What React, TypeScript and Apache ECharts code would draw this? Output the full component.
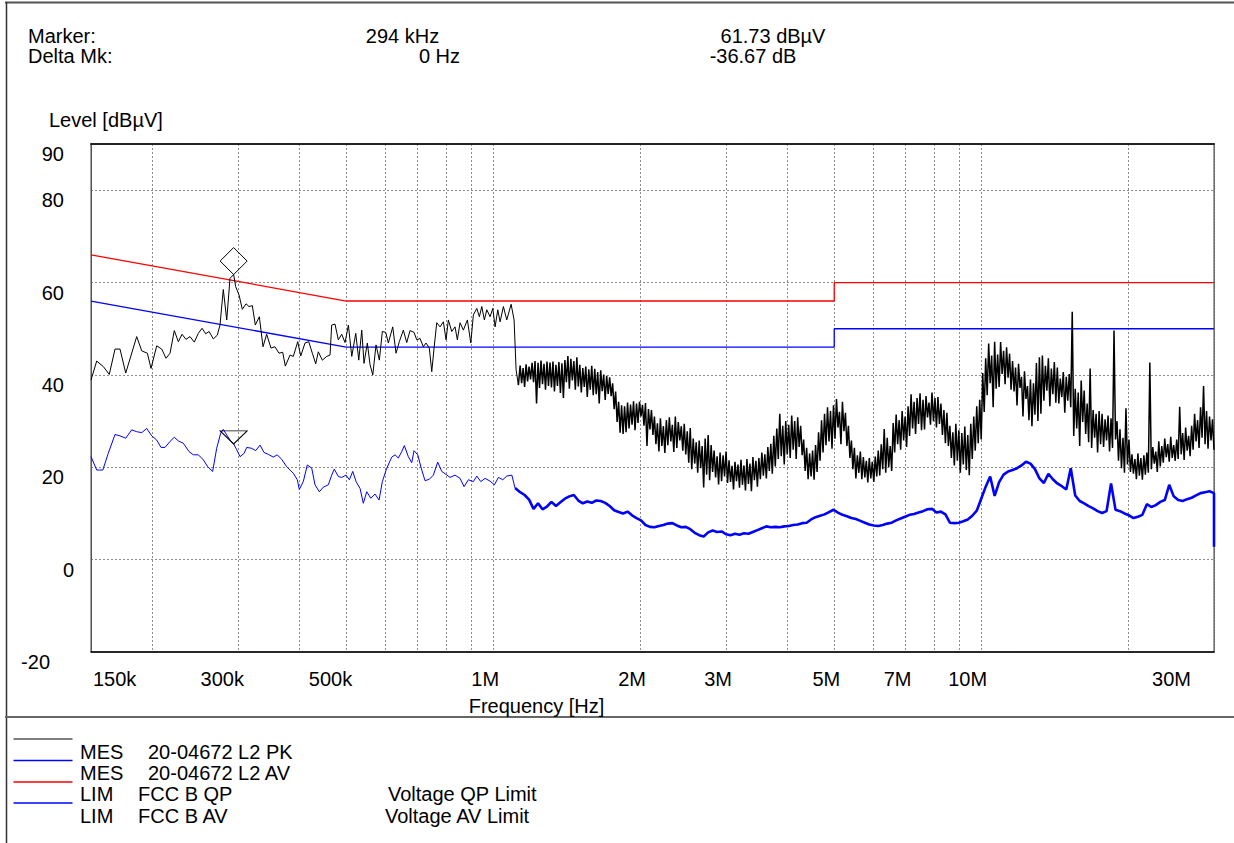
import React, { useEffect, useRef } from "react";
import * as echarts from "echarts";

const FONT = "'Liberation Sans', Arial, Helvetica, sans-serif";

// ---------- axes ----------
const X_MIN_MHZ = 0.15;
const X_MAX_MHZ = 30;
const Y_MIN = -20;
const Y_MAX = 90;
const X_GRID_MHZ = [0.2, 0.3, 0.4, 0.5, 0.6, 0.7, 0.8, 0.9, 1, 2, 3, 4, 5, 6, 7, 8, 9, 10, 20];
const X_TICK_MHZ = [0.3, 0.5, 1, 2, 3, 5, 7, 10];
const X_TICK_TEXT = ["300k", "500k", "1M", "2M", "3M", "5M", "7M", "10M"];
const X_FIRST_TICK_MHZ = [0.15];
const X_FIRST_TICK_TEXT = ["150k"];
const X_LAST_TICK_MHZ = [30];
const X_LAST_TICK_TEXT = ["30M"];
const Y_GRID = [0, 20, 40, 60, 80];
const Y_TICKS_MAIN = [20, 40, 60, 80, 90];
const Y_TICKS_ZERO = [0];
const Y_TICKS_LOW = [-20];

// ---------- limits (FCC class B) ----------
const QP_LIMIT_MHZ = [0.15, 0.5, 5, 5, 30];
const QP_LIMIT_DB = [66, 56, 56, 60, 60];
const AV_LIMIT_MHZ = [0.15, 0.5, 5, 5, 30];
const AV_LIMIT_DB = [56, 46, 46, 50, 50];

// ---------- marker ----------
const MARKER_MHZ = 0.294;
const MARKER_PK_DB = 61.73;
const MARKER_DELTA_DB = -36.67;

// ---------- PK trace, 150 kHz .. 1.13 MHz ----------
const PK_LEFT_MHZ = [
  0.15, 0.1541, 0.159, 0.1635, 0.168, 0.172, 0.1767, 0.1861, 0.1906, 0.1957,
  0.1991, 0.2045, 0.2094, 0.2137, 0.2178, 0.2222, 0.2265, 0.2305, 0.2348, 0.2393,
  0.2442, 0.2489, 0.2533, 0.2577, 0.2618, 0.2671, 0.2722, 0.2757, 0.28, 0.2846,
  0.289, 0.294, 0.2969, 0.3016, 0.3063, 0.3117, 0.3161, 0.3211, 0.3257, 0.3319,
  0.3377, 0.3436, 0.3507, 0.3573, 0.3641, 0.3706, 0.3752, 0.3836, 0.3896, 0.3978,
  0.4035, 0.4117, 0.419, 0.4262, 0.433, 0.4384, 0.4468, 0.4561, 0.4633, 0.467,
  0.4743, 0.4818, 0.4896, 0.4973, 0.5052, 0.5133, 0.5231, 0.5306, 0.5381, 0.5439,
  0.5525, 0.5596, 0.5668, 0.5756, 0.5847, 0.593, 0.6026, 0.61, 0.6228, 0.6326,
  0.6425, 0.6548, 0.6653, 0.6758, 0.6887, 0.6975, 0.7085, 0.7195, 0.7288, 0.7402,
  0.7487, 0.7569, 0.7665, 0.7786, 0.7908, 0.801, 0.8097, 0.8227, 0.8357, 0.8448,
  0.8556, 0.8691, 0.8857, 0.9001, 0.9111, 0.926, 0.9373, 0.948, 0.9596, 0.9707,
  0.9858, 0.9986, 1.0095, 1.0223, 1.0335, 1.0498, 1.0666, 1.0887, 1.1041, 1.1146,
  1.1267,
];
const PK_LEFT_DB = [
  38.9, 43.0, 41.8, 40.1, 45.6, 45.6, 40.4, 48.3, 45.2, 44.7,
  41.4, 46.3, 45.6, 43.6, 44.7, 49.6, 47.2, 48.8, 47.7, 48.3,
  47.1, 49.0, 50.1, 48.9, 49.4, 47.8, 48.6, 50.8, 58.5, 51.9,
  60.9, 61.73, 59.1, 57.3, 54.2, 55.4, 54.8, 55.0, 50.8, 52.6,
  46.1, 48.8, 45.8, 46.1, 44.7, 44.9, 41.9, 44.3, 44.0, 47.2,
  44.1, 46.9, 47.2, 44.7, 42.4, 45.0, 43.2, 44.0, 44.3, 50.8,
  51.0, 47.6, 48.8, 47.0, 50.8, 44.0, 49.0, 43.2, 49.7, 42.5,
  46.9, 42.2, 40.0, 46.5, 43.2, 49.4, 49.2, 46.9, 50.4, 44.7,
  47.2, 49.7, 47.0, 49.6, 49.2, 47.6, 47.9, 46.1, 46.9, 45.8,
  40.7, 45.8, 51.3, 50.4, 51.5, 47.6, 51.9, 49.4, 50.4, 47.6,
  51.3, 49.7, 51.9, 46.9, 53.0, 54.4, 52.6, 54.8, 51.9, 54.1,
  52.6, 54.4, 50.4, 54.1, 51.5, 54.8, 51.9, 55.3, 51.9, 41.1,
  37.8,
];

// ---------- PK trace, 1.136 MHz .. 30 MHz, sweep points evenly spaced on the log axis ----------
const PK_BAND_START_MHZ = 1.136;
const PK_BAND_END_MHZ = 30;
const PK_BAND_DB = [
  42.0, 38.2, 41.5, 37.4, 42.3, 38.6, 41.8, 39.0, 42.6, 38.4,
  43.0, 33.8, 42.6, 37.2, 43.1, 38.0, 42.4, 36.8, 42.9, 37.6,
  42.7, 37.3, 42.9, 36.4, 42.2, 37.6, 42.8, 36.1, 42.5, 35.0,
  43.2, 38.4, 44.1, 37.0, 43.5, 38.8, 43.0, 36.8, 43.8, 37.5,
  42.2, 36.2, 41.5, 37.4, 41.8, 35.2, 41.2, 36.8, 42.0, 35.6,
  41.3, 35.8, 40.6, 33.8, 41.0, 36.5, 40.1, 34.6, 39.8, 35.9,
  39.5, 35.4, 38.2, 32.6, 36.4, 29.8, 34.2, 27.5, 33.4, 27.2,
  33.2, 27.6, 34.0, 28.4, 33.6, 29.2, 34.3, 28.0, 33.8, 29.6,
  34.2, 31.0, 33.5, 29.0, 33.9, 24.6, 32.6, 28.2, 32.4, 27.0,
  31.0, 25.0, 29.5, 23.4, 30.6, 24.6, 28.9, 23.1, 30.2, 24.8,
  30.8, 25.6, 29.2, 23.3, 31.0, 24.2, 29.8, 25.8, 28.9, 23.6,
  29.4, 22.8, 27.8, 21.0, 28.5, 19.6, 26.2, 20.8, 25.4, 18.8,
  25.8, 19.8, 24.6, 15.6, 26.2, 18.4, 27.0, 17.2, 24.8, 19.0,
  23.6, 17.8, 22.4, 16.3, 23.2, 17.0, 22.6, 18.0, 23.4, 16.6,
  21.5, 16.8, 20.3, 15.2, 21.2, 17.0, 20.6, 15.6, 21.6, 16.2,
  20.4, 15.0, 21.8, 16.4, 20.8, 14.8, 22.2, 17.2, 21.4, 15.8,
  22.0, 17.4, 23.2, 18.2, 22.8, 17.6, 24.4, 19.2, 25.1, 18.6,
  26.8, 20.2, 28.4, 21.8, 31.6, 22.4, 29.0, 20.6, 30.0, 22.8,
  29.2, 22.0, 31.2, 23.8, 30.0, 21.8, 30.8, 24.4, 29.0, 22.6,
  26.0, 19.2, 24.2, 17.4, 23.0, 18.0, 23.6, 17.3, 24.8, 19.0,
  27.6, 21.4, 30.2, 23.2, 31.6, 24.8, 33.0, 25.6, 32.2, 24.0,
  33.4, 26.2, 34.8, 28.6, 32.0, 25.0, 34.2, 27.8, 31.8, 24.6,
  29.0, 22.0, 25.8, 19.6, 24.2, 17.6, 22.6, 18.8, 23.4, 17.4,
  22.2, 17.8, 21.4, 16.7, 22.0, 17.6, 21.2, 16.8, 22.3, 18.0,
  23.6, 18.2, 25.0, 19.6, 28.3, 18.8, 26.4, 20.0, 24.6, 19.2,
  29.6, 23.2, 31.4, 25.0, 30.2, 23.8, 32.2, 25.8, 31.0, 24.4,
  33.2, 26.8, 35.8, 28.4, 34.2, 27.2, 35.0, 29.4, 36.0, 28.0,
  34.6, 28.2, 35.4, 30.8, 34.0, 29.2, 36.2, 30.0, 35.0, 28.6,
  35.2, 29.4, 33.8, 27.0, 32.4, 25.2, 31.8, 24.6, 29.0, 22.0,
  27.6, 20.4, 29.4, 21.4, 28.0, 18.8, 27.4, 20.6, 28.8, 19.4,
  27.0, 18.3, 29.4, 21.8, 31.0, 23.6, 33.2, 25.2, 34.6, 26.0,
  40.4, 32.0, 43.6, 35.6, 46.8, 38.2, 44.2, 33.0, 47.2, 37.0,
  44.4, 37.4, 47.1, 40.2, 45.2, 38.0, 46.0, 39.4, 44.6, 36.8,
  43.0, 36.4, 41.6, 33.4, 42.4, 37.2, 39.6, 31.0, 40.8, 34.8,
  37.6, 30.2, 39.0, 28.9, 38.2, 31.4, 42.6, 30.0, 43.8, 31.6,
  44.2, 34.4, 42.0, 36.6, 43.6, 33.2, 41.4, 35.8, 42.8, 34.0,
  41.6, 33.8, 39.2, 35.2, 40.6, 31.8, 39.6, 34.4, 40.2, 33.0,
  53.7, 26.8, 37.0, 28.4, 36.2, 24.6, 38.8, 29.8, 36.6, 27.2,
  33.8, 25.4, 41.4, 24.2, 32.4, 26.4, 31.6, 23.2, 32.2, 25.0,
  31.6, 24.4, 30.4, 25.8, 31.2, 23.4, 30.6, 24.2, 49.6, 26.0,
  30.0, 21.4, 28.2, 19.8, 26.4, 18.8, 32.8, 20.6, 26.0, 19.0,
  22.8, 18.6, 21.8, 17.4, 23.0, 18.2, 22.0, 17.3, 22.6, 18.4,
  23.2, 18.8, 42.7, 19.6, 24.4, 20.8, 23.4, 19.0, 25.6, 20.2,
  24.6, 21.0, 26.2, 22.2, 25.0, 21.2, 26.6, 22.0, 24.8, 21.4,
  26.0, 21.8, 33.1, 22.8, 27.4, 21.6, 28.6, 23.6, 26.8, 22.4,
  29.0, 23.8, 31.6, 25.6, 30.2, 24.2, 33.0, 26.4, 37.6, 25.0,
  32.2, 24.0, 31.0, 25.8, 30.4, 23.8,
];

// ---------- AV trace, 150 kHz .. 1.11 MHz ----------
const AV_LEFT_MHZ = [
  0.15, 0.1541, 0.1586, 0.1627, 0.168, 0.172, 0.1767, 0.1818, 0.1861, 0.1906,
  0.1951, 0.1998, 0.2045, 0.2087, 0.2127, 0.2178, 0.2222, 0.2265, 0.2319, 0.2382,
  0.2431, 0.2489, 0.2549, 0.2602, 0.2663, 0.2714, 0.2766, 0.28, 0.2846, 0.289,
  0.294, 0.2983, 0.303, 0.3088, 0.3127, 0.3202, 0.3263, 0.333, 0.3393, 0.3462,
  0.3545, 0.3612, 0.3689, 0.3777, 0.3896, 0.397, 0.4008, 0.4084, 0.4162, 0.425,
  0.4316, 0.4405, 0.4489, 0.4595, 0.467, 0.4727, 0.4818, 0.4896, 0.4997, 0.5076,
  0.5157, 0.5238, 0.5339, 0.5421, 0.5509, 0.5614, 0.5729, 0.5839, 0.593, 0.6054,
  0.6199, 0.6296, 0.6395, 0.6499, 0.6579, 0.6703, 0.6812, 0.6887, 0.7008, 0.7142,
  0.7254, 0.7402, 0.7544, 0.7701, 0.7849, 0.7972, 0.8162, 0.8357, 0.8556, 0.872,
  0.8899, 0.9111, 0.926, 0.9435, 0.9628, 0.9858, 1.0062, 1.0252, 1.0468, 1.0666,
  1.0923, 1.1093,
];
const AV_LEFT_DB = [
  22.3, 19.4, 19.4, 23.0, 27.1, 26.8, 26.3, 28.1, 27.7, 27.5,
  28.4, 26.8, 25.9, 24.3, 24.3, 25.6, 26.5, 25.7, 25.2, 23.4,
  22.7, 22.7, 21.6, 20.1, 19.1, 24.1, 27.4, 28.2, 27.0, 25.9,
  25.06, 23.8, 22.3, 23.0, 24.3, 24.1, 23.6, 24.8, 23.2, 22.8,
  22.2, 22.7, 21.7, 20.1, 18.7, 17.3, 15.2, 16.9, 20.5, 19.8,
  16.2, 14.7, 15.7, 16.2, 18.3, 19.6, 18.0, 17.8, 18.3, 17.3,
  19.1, 16.9, 15.4, 12.2, 14.7, 13.3, 14.2, 12.9, 16.9, 19.8,
  22.2, 22.7, 22.0, 23.4, 24.7, 22.3, 21.0, 23.6, 22.7, 19.4,
  17.1, 17.4, 18.3, 21.1, 19.1, 18.6, 17.8, 18.3, 17.6, 15.8,
  17.3, 16.9, 18.1, 16.9, 17.6, 17.0, 16.2, 17.8, 17.3, 18.1,
  18.3, 15.5,
];

// ---------- AV trace, 1.136 MHz .. 30 MHz, evenly spaced on the log axis ----------
const AV_BAND_START_MHZ = 1.136;
const AV_BAND_END_MHZ = 30;
const AV_BAND_DB = [
  14.6, 14.0, 13.0, 11.0, 12.2, 10.9, 11.5, 12.5, 11.6, 12.4,
  13.2, 13.7, 14.0, 12.8, 12.2, 12.6, 12.3, 12.8, 12.7, 12.3,
  11.6, 10.7, 10.3, 10.0, 10.4, 9.6, 9.0, 8.5, 7.5, 7.1,
  7.0, 7.3, 7.5, 7.8, 7.9, 7.4, 7.0, 7.1, 6.6, 5.8,
  5.3, 5.0, 5.9, 6.3, 6.0, 6.1, 5.5, 5.3, 5.6, 5.4,
  5.7, 5.6, 6.0, 6.4, 6.8, 7.2, 7.0, 7.1, 7.0, 7.2,
  7.3, 7.5, 7.6, 7.9, 8.0, 8.7, 9.2, 9.5, 9.8, 10.3,
  10.8, 10.2, 9.7, 9.4, 9.0, 8.8, 8.4, 8.0, 7.6, 7.4,
  7.3, 7.5, 7.8, 8.0, 8.5, 8.9, 9.3, 9.7, 9.9, 10.2,
  10.5, 10.9, 11.0, 10.2, 10.4, 9.8, 8.0, 7.9, 8.0, 8.3,
  8.7, 9.5, 10.6, 13.2, 15.8, 18.0, 13.8, 16.8, 18.4, 19.1,
  19.4, 19.8, 20.4, 21.2, 20.8, 19.6, 17.6, 16.6, 18.6, 17.4,
  16.5, 15.9, 15.2, 19.8, 13.9, 12.7, 12.2, 11.6, 11.1, 10.5,
  10.1, 10.5, 16.5, 10.8, 10.5, 10.0, 9.6, 9.0, 9.3, 9.7,
  12.0, 11.4, 11.8, 12.5, 12.9, 16.2, 13.7, 12.9, 12.7, 13.1,
  13.4, 13.9, 14.4, 14.6, 14.8, 14.4,
];
const AV_END_MHZ = 30;
const AV_END_DB = 2.8;

// ---------- legend ----------
const LEGEND_COLORS = ["#000000", "#0000ff", "#ff0000", "#0000ff"];
const LEGEND_KIND = ["MES", "MES", "LIM", "LIM"];
const LEGEND_NAME = ["20-04672 L2 PK", "20-04672 L2 AV", "FCC B QP", "FCC B AV"];
const LEGEND_DESC = ["", "", "Voltage QP Limit", "Voltage AV Limit"];

const lg = (v: number) => Math.log10(v);
const pairs = (f: number[], d: number[]) => f.map((v, i) => [lg(v), d[i]]);
const evenBand = (f0: number, f1: number, vals: number[]) => {
  const a = lg(f0);
  const b = lg(f1);
  const n = vals.length;
  return vals.map((v, i) => [a + ((b - a) * i) / (n - 1), v]);
};

function buildOption() {
  const labelStyle = { fontSize: 20, fontFamily: FONT, color: "#000" };
  const gridLine = { show: true, lineStyle: { color: "#8c8c8c", width: 1, type: [2, 2] } };
  const xBase = { type: "value", min: lg(X_MIN_MHZ), max: lg(X_MAX_MHZ), position: "bottom" };
  const yBase = { type: "value", min: Y_MIN, max: Y_MAX, position: "left" };
  const findText = (vals: number[], texts: string[]) => (v: number) => {
    for (let i = 0; i < vals.length; i++) if (Math.abs(lg(vals[i]) - v) < 1e-6) return texts[i];
    return "";
  };
  const hidden = { axisLine: { show: false, onZero: false }, axisTick: { show: false }, splitLine: { show: false } };

  const pkLeft = pairs(PK_LEFT_MHZ, PK_LEFT_DB);
  const pkBand = [pkLeft[pkLeft.length - 1], ...evenBand(PK_BAND_START_MHZ, PK_BAND_END_MHZ, PK_BAND_DB)];
  const avLeft = pairs(AV_LEFT_MHZ, AV_LEFT_DB);
  const avRight = [
    avLeft[avLeft.length - 1],
    ...evenBand(AV_BAND_START_MHZ, AV_BAND_END_MHZ, AV_BAND_DB),
    [lg(AV_END_MHZ), AV_END_DB],
  ];
  const markerAv = MARKER_PK_DB + MARKER_DELTA_DB;

  const text = (t: string, x: number, y: number, align = "left") => ({
    type: "text",
    x,
    y,
    silent: true,
    style: {
      text: t,
      fontSize: 20,
      fontFamily: FONT,
      fill: "#000",
      align,
      verticalAlign: "middle",
      textAlign: align,
      textVerticalAlign: "middle",
    },
  });
  const hline = (x1: number, x2: number, y: number, stroke: string, w: number) => ({
    type: "line",
    silent: true,
    shape: { x1, y1: y, x2, y2: y },
    style: { stroke, lineWidth: w },
  });

  const rowY = [751.7, 773, 794.2, 815.5];
  const lineY = [739, 760.5, 782, 803];
  const graphics: any[] = [
    hline(5, 1234, 2.5, "#555", 2),
    { type: "line", silent: true, shape: { x1: 6.5, y1: 2, x2: 6.5, y2: 843 }, style: { stroke: "#333", lineWidth: 1.5 } },
    hline(5, 1234, 717, "#666", 2),
    text("Marker:", 28, 36.3),
    text("Delta Mk:", 28, 56.3),
    text(`${Math.round(MARKER_MHZ * 1000)} kHz`, 402.5, 36.3, "center"),
    text("0 Hz", 439.5, 56.3, "center"),
    text(`${MARKER_PK_DB.toFixed(2)} dBµV`, 773, 36.3, "center"),
    text(`${MARKER_DELTA_DB.toFixed(2)} dB`, 753, 56.3, "center"),
    text("Level [dBµV]", 49, 120),
    text("Frequency [Hz]", 536.5, 706, "center"),
  ];
  const nameX = [148, 148, 138, 138];
  const descX = [0, 0, 388, 385];
  for (let i = 0; i < 4; i++) {
    graphics.push(hline(13.5, 72.5, lineY[i], LEGEND_COLORS[i], i === 0 ? 1.2 : 1.5));
    graphics.push(text(LEGEND_KIND[i], 80, rowY[i]));
    graphics.push(text(LEGEND_NAME[i], nameX[i], rowY[i]));
    if (LEGEND_DESC[i]) graphics.push(text(LEGEND_DESC[i], descX[i], rowY[i]));
  }

  const yLabel = (vals: number[], margin: number) => ({
    ...labelStyle,
    customValues: vals,
    margin,
    verticalAlign: "top",
    showMinLabel: true,
    showMaxLabel: true,
  });

  return {
    animation: false,
    backgroundColor: "#ffffff",
    grid: {
      left: 91,
      top: 144,
      width: 1123,
      height: 508,
      show: true,
      borderColor: "#444",
      borderWidth: 1,
      containLabel: false,
      outerBoundsMode: "none",
    },
    xAxis: [
      {
        ...xBase,
        axisLine: { show: true, onZero: false, lineStyle: { color: "#000", width: 1.5 } },
        axisTick: { show: false, customValues: X_GRID_MHZ.map(lg) },
        splitLine: gridLine,
        axisLabel: {
          ...labelStyle,
          customValues: X_TICK_MHZ.map(lg),
          formatter: findText(X_TICK_MHZ, X_TICK_TEXT),
          align: "right",
          padding: [0, -6, 0, 0],
          margin: 17,
        },
      },
      {
        ...xBase,
        ...hidden,
        axisLabel: {
          ...labelStyle,
          customValues: X_FIRST_TICK_MHZ.map(lg),
          formatter: findText(X_FIRST_TICK_MHZ, X_FIRST_TICK_TEXT),
          align: "left",
          padding: [0, 0, 0, 2],
          margin: 17,
          showMinLabel: true,
        },
      },
      {
        ...xBase,
        ...hidden,
        axisLabel: {
          ...labelStyle,
          customValues: X_LAST_TICK_MHZ.map(lg),
          formatter: findText(X_LAST_TICK_MHZ, X_LAST_TICK_TEXT),
          align: "right",
          padding: [0, 23, 0, 0],
          margin: 17,
          showMaxLabel: true,
        },
      },
      {
        ...xBase,
        position: "top",
        axisLine: { show: true, onZero: false, lineStyle: { color: "#222", width: 2, type: [2, 1] } },
        axisTick: { show: false },
        splitLine: { show: false },
        axisLabel: { show: false },
      },
    ],
    yAxis: [
      {
        ...yBase,
        axisLine: { show: true, onZero: false, lineStyle: { color: "#555", width: 1 } },
        axisTick: { show: false, customValues: Y_GRID },
        splitLine: gridLine,
        axisLabel: yLabel(Y_TICKS_MAIN, 27),
      },
      { ...yBase, ...hidden, axisLabel: yLabel(Y_TICKS_ZERO, 17) },
      { ...yBase, ...hidden, axisLabel: yLabel(Y_TICKS_LOW, 41) },
      {
        ...yBase,
        position: "right",
        axisLine: { show: true, onZero: false, lineStyle: { color: "#666", width: 1, type: [2, 1] } },
        axisTick: { show: false },
        splitLine: { show: false },
        axisLabel: { show: false },
      },
    ],
    series: [
      {
        name: "LIM FCC B QP",
        type: "line",
        data: pairs(QP_LIMIT_MHZ, QP_LIMIT_DB),
        symbol: "none",
        lineStyle: { color: "#ff0000", width: 1.3 },
        itemStyle: { color: "#ff0000" },
        z: 3,
      },
      {
        name: "LIM FCC B AV",
        type: "line",
        data: pairs(AV_LIMIT_MHZ, AV_LIMIT_DB),
        symbol: "none",
        lineStyle: { color: "#0000ff", width: 1.3 },
        itemStyle: { color: "#0000ff" },
        z: 3,
      },
      {
        name: "MES 20-04672 L2 AV",
        type: "line",
        data: avLeft,
        symbol: "none",
        lineStyle: { color: "#0000ff", width: 1 },
        itemStyle: { color: "#0000ff" },
        z: 4,
        markPoint: {
          symbol: "path://M0 0 L20 0 L10 10 Z",
          symbolSize: [27, 13],
          symbolOffset: [0, -6.5],
          label: { show: false },
          itemStyle: { color: "rgba(0,0,0,0)", borderColor: "#000", borderWidth: 1 },
          data: [{ coord: [lg(MARKER_MHZ), markerAv] }],
        },
      },
      {
        name: "MES 20-04672 L2 AV (1.1-30 MHz)",
        type: "line",
        data: avRight,
        symbol: "none",
        lineStyle: { color: "#0000ff", width: 2.6 },
        itemStyle: { color: "#0000ff" },
        z: 4,
      },
      {
        name: "MES 20-04672 L2 PK",
        type: "line",
        data: pkLeft,
        symbol: "none",
        lineStyle: { color: "#000000", width: 1 },
        itemStyle: { color: "#000000" },
        z: 5,
        markPoint: {
          symbol: "diamond",
          symbolSize: [27, 27],
          symbolOffset: [0, -13.5],
          label: { show: false },
          itemStyle: { color: "rgba(0,0,0,0)", borderColor: "#000", borderWidth: 1 },
          data: [{ coord: [lg(MARKER_MHZ), MARKER_PK_DB] }],
        },
      },
      {
        name: "MES 20-04672 L2 PK (1.1-30 MHz)",
        type: "line",
        data: pkBand,
        symbol: "none",
        lineStyle: { color: "#000000", width: 1.5 },
        itemStyle: { color: "#000000" },
        z: 5,
      },
    ],
    graphic: graphics,
  };
}

export default function App() {
  const ref = useRef<HTMLDivElement>(null);
  useEffect(() => {
    if (!ref.current) return;
    const chart = echarts.init(ref.current, undefined, { renderer: "svg" });
    chart.setOption(buildOption() as any);
    return () => chart.dispose();
  }, []);
  return (
    <div
      ref={ref}
      style={{ position: "fixed", left: 0, top: 0, width: 1234, height: 843, background: "#fff" }}
    />
  );
}
